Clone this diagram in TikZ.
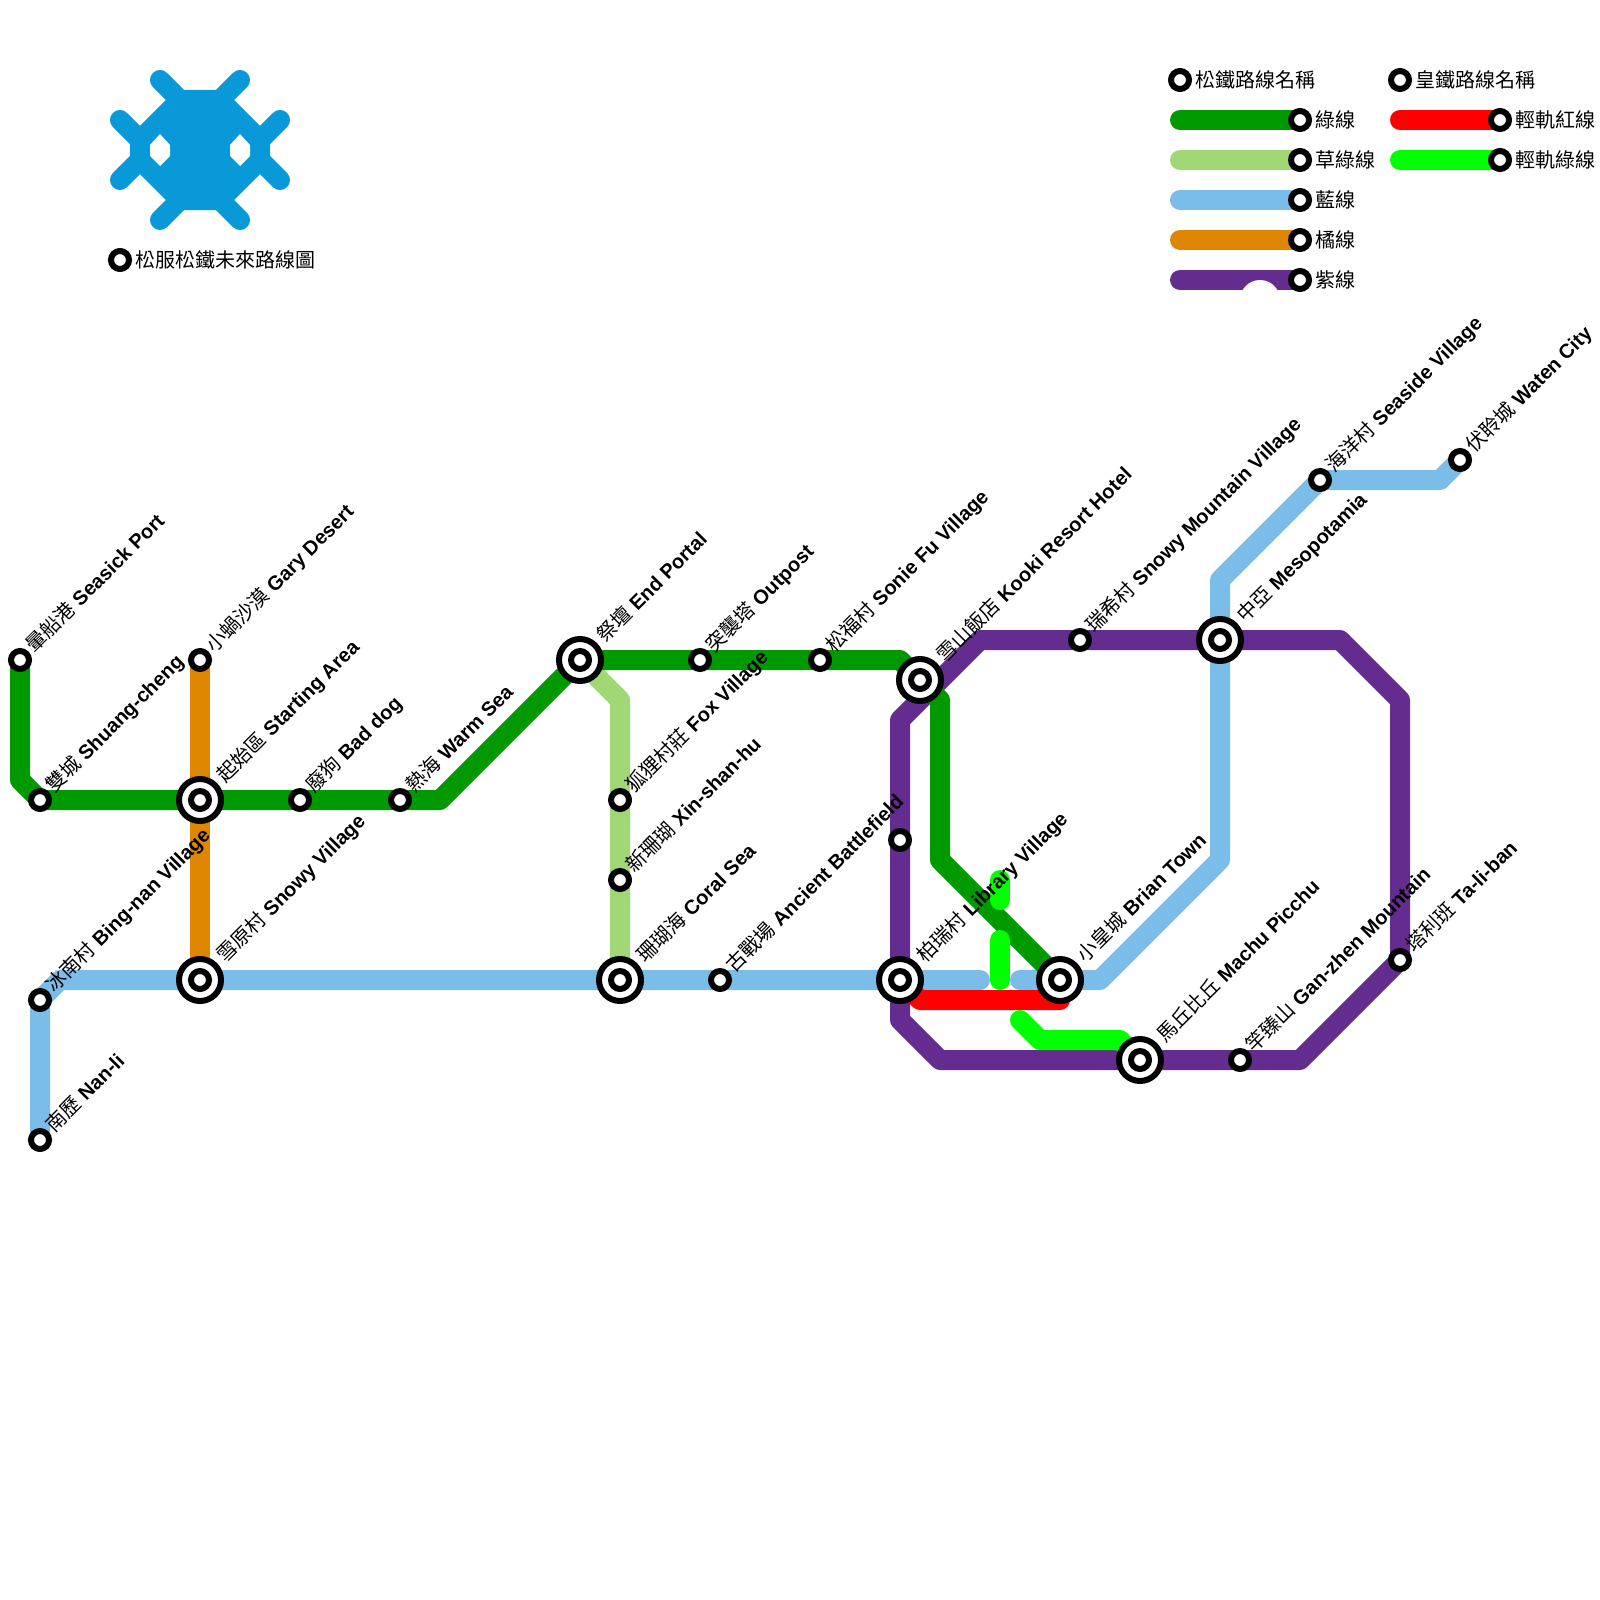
\documentclass[tikz,border=0pt]{standalone}
\usepackage{fontspec}
\setmainfont{Liberation Sans}
\newfontfamily\cjk{Noto Sans CJK TC}
\usetikzlibrary{backgrounds}

\definecolor{songgreen}{RGB}{0,153,0}
\definecolor{grassgreen}{RGB}{162,215,117}
\definecolor{skyblue}{RGB}{122,189,232}
\definecolor{tangerine}{RGB}{223,134,0}
\definecolor{royalpurple}{RGB}{101,44,144}
\definecolor{logoblue}{RGB}{9,152,216}
\definecolor{lightrailred}{RGB}{255,0,0}
\definecolor{lightrailgreen}{RGB}{0,255,0}

\begin{document}
\begin{tikzpicture}[
    x=0.5pt, y=-0.5pt,
    station/.style={circle, draw=black, fill=white, line width=3pt, inner sep=0pt, outer sep=0pt, minimum size=9pt},
    hub/.style={station, minimum size=21pt},
    railline/.style={line width=10pt, line cap=round, line join=round},
    nametag/.style={rotate=45, anchor=base west, inner sep=0pt, font=\fontsize{10}{12}\selectfont},
    legendtag/.style={anchor=west, inner sep=0pt, font=\cjk\fontsize{10}{12}\selectfont}
]
   \useasboundingbox (0,0) rectangle (1600,1600);

   % Logo
   \draw[logoblue, line width=10pt, line cap=round, line join=round, fill=logoblue]
      (180,100) -- (220,100) -- (260,140) -- (260,160) -- (220,200) -- (180,200) -- (140,160) -- (140,140) -- cycle;
   \foreach \ax/\ay/\bx/\by in {160/80/180/100, 240/80/220/100, 120/120/140/140, 280/120/260/140,
                                120/180/140/160, 280/180/260/160, 160/220/180/200, 240/220/220/200}
      \draw[logoblue, railline] (\ax,\ay) -- (\bx,\by);
   \foreach \cx in {160,240}
      \fill[white] (\cx,134) -- (\cx+10,145) -- (\cx+10,156) -- (\cx,166) -- (\cx-10,156) -- (\cx-10,145) -- cycle;
   \node[station] (logodot) at (120,260) {};
   \node[legendtag] (logotext) at (135,260) {松服松鐵未來路線圖};

   % Legend
   \node[station] (songname) at (1180,80) {};
   \node[legendtag] (songtext) at (1195,80) {松鐵路線名稱};
   \node[station] (royalname) at (1400,80) {};
   \node[legendtag] (royaltext) at (1415,80) {皇鐵路線名稱};
   \foreach \name/\y/\zh in {lgreen/120/綠線, lgrass/160/草綠線, lblue/200/藍線, lorange/240/橘線, lpurple/280/紫線} {
      \coordinate (\name-start) at (1180,\y);
      \node[station] (\name) at (1300,\y) {};
      \node[legendtag] (\name-text) at (1315,\y) {\zh};
   }
   \foreach \name/\y/\zh in {lred/120/輕軌紅線, llime/160/輕軌綠線} {
      \coordinate (\name-start) at (1400,\y);
      \node[station] (\name) at (1500,\y) {};
      \node[legendtag] (\name-text) at (1515,\y) {\zh};
   }

   % Stations
   \foreach \name/\x/\y in {seasick/20/660, shuangcheng/40/800, gary/200/660, baddog/300/800, warmsea/400/800,
                            outpost/700/660, sonie/820/660, foxvillage/620/800, xinshanhu/620/880,
                            bingnan/40/1000, nanli/40/1140, battlefield/720/980, snowmountain/1080/640,
                            seaside/1320/480, waten/1460/460, ganzhen/1240/1060, taliban/1400/960,
                            unnamed/900/840}
      \node[station] (\name) at (\x,\y) {};

   \foreach \name/\x/\y in {starting/200/800, snowy/200/980, endportal/580/660, kooki/920/680, mesopotamia/1220/640,
                            coralsea/620/980, library/900/980, brian/1060/980, machu/1140/1060} {
      \node[hub] (\name) at (\x,\y) {};
      \node[station] (\name-dot) at (\x,\y) {};
   }

   % Bends
   \coordinate (g1) at (20,780);
   \coordinate (g2) at (440,800);
   \coordinate (g3) at (900,660);
   \coordinate (g4) at (940,700);
   \coordinate (g5) at (940,860);
   \coordinate (c1) at (620,700);
   \coordinate (b1) at (60,980);
   \coordinate (b2) at (980,980);
   \coordinate (b3) at (1020,980);
   \coordinate (b4) at (1100,980);
   \coordinate (b5) at (1220,860);
   \coordinate (b6) at (1220,580);
   \coordinate (b7) at (1440,480);
   \coordinate (p1) at (900,720);
   \coordinate (p2) at (980,640);
   \coordinate (p3) at (1340,640);
   \coordinate (p4) at (1400,700);
   \coordinate (p5) at (1300,1060);
   \coordinate (p6) at (940,1060);
   \coordinate (p7) at (900,1020);
   \coordinate (r1) at (920,1000);
   \coordinate (r2) at (1060,1000);
   \coordinate (t1) at (1000,880);
   \coordinate (t2) at (1000,900);
   \coordinate (t3) at (1000,940);
   \coordinate (t4) at (1000,980);
   \coordinate (t5) at (1020,1020);
   \coordinate (t6) at (1040,1040);
   \coordinate (t7) at (1120,1040);

   % Lines
   \begin{scope}[on background layer]
      \draw[railline, royalpurple] (p1) -- (p2) -- (p3) -- (p4) -- (taliban.center) -- (p5) -- (p6) -- (p7) -- cycle;
      \draw[railline, skyblue] (nanli.center) -- (bingnan.center) -- (b1) -- (b2);
      \draw[railline, skyblue] (b3) -- (b4) -- (b5) -- (b6) -- (seaside.center) -- (b7) -- (waten.center);
      \draw[railline, tangerine] (gary.center) -- (snowy.center);
      \draw[railline, grassgreen] (endportal.center) -- (c1) -- (coralsea.center);
      \draw[railline, songgreen] (seasick.center) -- (g1) -- (shuangcheng.center) -- (g2) -- (endportal.center)
         -- (g3) -- (g4) -- (g5) -- (brian.center);
      \draw[railline, lightrailred] (library.center) -- (r1) -- (r2) -- (brian.center);
      \draw[railline, lightrailgreen] (t1) -- (t2);
      \draw[railline, lightrailgreen] (t3) -- (t4);
      \draw[railline, lightrailgreen] (t5) -- (t6) -- (t7) -- (machu.center);

      % Legend lines
      \draw[railline, songgreen] (lgreen-start) -- (lgreen.center);
      \draw[railline, grassgreen] (lgrass-start) -- (lgrass.center);
      \draw[railline, skyblue] (lblue-start) -- (lblue.center);
      \draw[railline, tangerine] (lorange-start) -- (lorange.center);
      \draw[railline, royalpurple] (lpurple-start) -- (lpurple.center);
      \draw[railline, lightrailred] (lred-start) -- (lred.center);
      \draw[railline, lightrailgreen] (llime-start) -- (llime.center);
      \fill[white] (1260,300) circle (10pt);
   \end{scope}

   % Names
   \foreach \at/\zh/\en in {seasick/暈船港/Seasick Port, shuangcheng/雙城/Shuang-cheng, gary/小蝸沙漠/Gary Desert,
                            baddog/廢狗/Bad dog, warmsea/熱海/Warm Sea, outpost/突襲塔/Outpost,
                            sonie/松福村/Sonie Fu Village, foxvillage/狐狸村莊/Fox Village,
                            xinshanhu/新珊瑚/Xin-shan-hu, bingnan/冰南村/Bing-nan Village, nanli/南歷/Nan-li,
                            battlefield/古戰場/Ancient Battlefield, snowmountain/瑞希村/Snowy Mountain Village,
                            seaside/海洋村/Seaside Village, waten/伏聆城/Waten City,
                            ganzhen/竿臻山/Gan-zhen Mountain, taliban/塔利班/Ta-li-ban}
      \node[nametag] (\at-tag) at ([shift={(14,-6)}]\at.center) {{\cjk\zh} \textbf{\en}};

   \foreach \at/\zh/\en in {starting/起始區/Starting Area, snowy/雪原村/Snowy Village, endportal/祭壇/End Portal,
                            kooki/雪山飯店/Kooki Resort Hotel, mesopotamia/中亞/Mesopotamia, coralsea/珊瑚海/Coral Sea,
                            library/柏瑞村/Library Village, brian/小皇城/Brian Town, machu/馬丘比丘/Machu Picchu}
      \node[nametag] (\at-tag) at ([shift={(25,-16)}]\at.center) {{\cjk\zh} \textbf{\en}};
\end{tikzpicture}
\end{document}
